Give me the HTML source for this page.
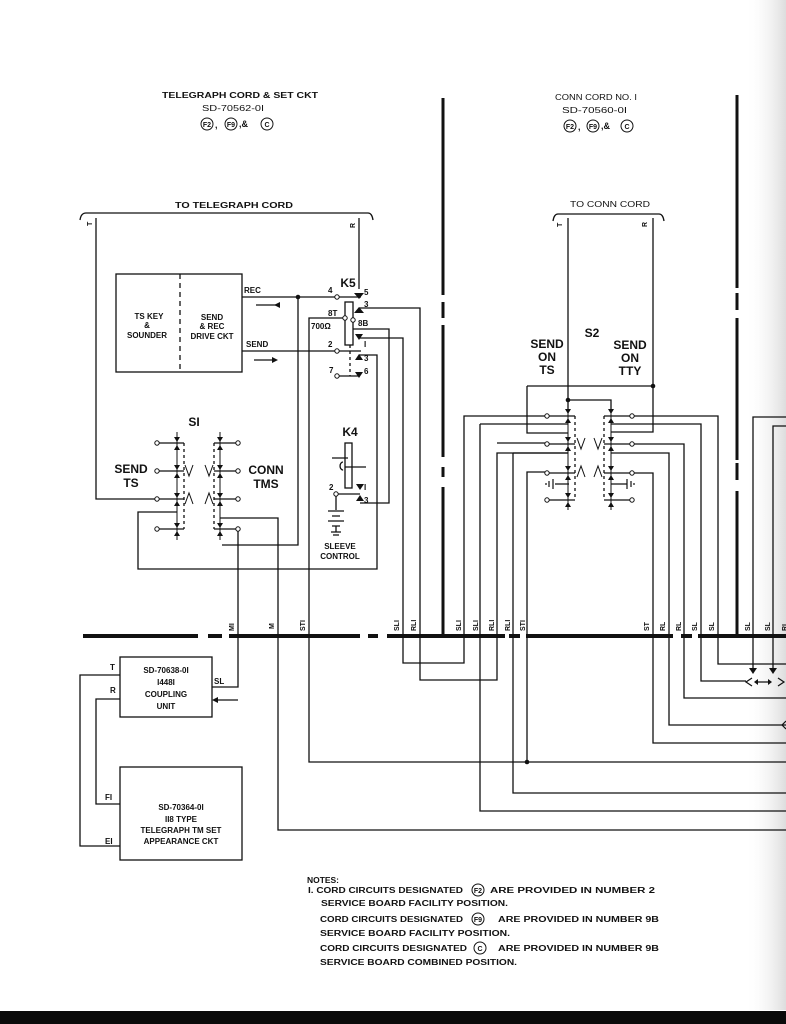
<!DOCTYPE html>
<html><head><meta charset="utf-8"><style>
html,body{margin:0;padding:0;background:#fff}
svg{display:block}
text{font-family:"Liberation Sans",sans-serif;fill:#111}
</style></head><body>
<svg width="786" height="1024" viewBox="0 0 786 1024" xmlns="http://www.w3.org/2000/svg">
<defs>
<linearGradient id="edge" x1="0" x2="1"><stop offset="0" stop-color="#fff" stop-opacity="0"/><stop offset="1" stop-color="#ddd"/></linearGradient>
</defs>
<rect width="786" height="1024" fill="#fff"/>
<rect x="745" y="0" width="41" height="1010" fill="url(#edge)"/>
<rect x="0" y="1011" width="786" height="13" fill="#0a0a0a"/>

<!-- titles -->
<g font-size="8" font-weight="bold">
<text x="162" y="98" textLength="156" lengthAdjust="spacingAndGlyphs">TELEGRAPH CORD &amp; SET CKT</text>
<text x="202" y="111" textLength="62" lengthAdjust="spacingAndGlyphs" font-weight="normal">SD-70562-0I</text>
<text x="175" y="208" textLength="118" lengthAdjust="spacingAndGlyphs">TO TELEGRAPH CORD</text>
<text x="555" y="100" textLength="82" lengthAdjust="spacingAndGlyphs" font-weight="normal">CONN CORD NO. I</text>
<text x="562" y="113" textLength="65" lengthAdjust="spacingAndGlyphs" font-weight="normal">SD-70560-0I</text>
<text x="570" y="207" textLength="80" lengthAdjust="spacingAndGlyphs" font-weight="normal">TO CONN CORD</text>
</g>
<g fill="none" stroke="#111" stroke-width="1">
<circle cx="207" cy="124" r="6"/><circle cx="231" cy="124" r="6"/><circle cx="267" cy="124" r="6"/>
<circle cx="570" cy="126" r="6"/><circle cx="593" cy="126" r="6"/><circle cx="627" cy="126" r="6"/>
</g>
<g font-size="7" text-anchor="middle" font-weight="bold">
<text x="207" y="127">F2</text><text x="231" y="127">F9</text><text x="267" y="127">C</text>
<text x="570" y="129">F2</text><text x="593" y="129">F9</text><text x="627" y="129">C</text>
</g>
<g font-size="9" font-weight="bold"><text x="215" y="128">,</text><text x="239" y="127">,&amp;</text>
<text x="578" y="130">,</text><text x="601" y="129">,&amp;</text></g>

<g fill="none" stroke="#111" stroke-width="1.3">
<!-- brackets -->
<path d="M80 220 Q81 213 86 213 L368 213 Q372 213 373 220"/>
<path d="M553 221 Q554 214 558 214 L659 214 Q663 214 664 221"/>
<!-- dividers -->
<path d="M443 98 V295 M443 302 V318 M443 325 V457 M443 467 V477 M443 487 V636" stroke-width="3"/>
<path d="M737 95 V288 M737 293 V310 M737 318 V460 M737 463 V480 M737 491 V636" stroke-width="3"/>
<!-- bus -->
<path d="M83 636 H198 M208 636 H222 M229 636 H360 M368 636 H378 M387 636 H505 M509 636 H520 M526 636 H673 M681 636 H692 M698 636 H786" stroke-width="4"/>

<!-- TS box -->
<rect x="116" y="274" width="126" height="98"/>
<path d="M180 274 V372" stroke-dasharray="5,4"/>
<path d="M96 218 V499 H155"/>
<path d="M359 218 V289"/>
<path d="M242 297 H335 M339 297 H361"/>
<path d="M298 297 V545 H222"/>
<path d="M242 351 H335 M339 351 H361"/>
<path d="M256 305 H280 M254 360 H276"/>
<!-- K5 -->
<rect x="345" y="302" width="8" height="43"/>
<path d="M359 308 H420 V680 H497 V453 H568"/>
<path d="M353 329 H389 V503 H360"/>
<path d="M359 338 H403 V663 H464 V416 H545"/>
<path d="M359 355 H377 V569 H138 V512 H177"/>
<path d="M309 636 V318 H345"/>
<path d="M309 636 V762 H786"/>
<path d="M339 376 H360"/>
<path d="M350 345 V376" stroke-dasharray="3,3"/>
<!-- K4 -->
<rect x="345" y="443" width="7" height="45"/>
<path d="M332 458 H348 M345 467 H366"/>
<path d="M343 462 a3 4 0 1 0 0.1 8"/>
<path d="M338 494 H360 M336 496 V510 M328 511 H344 M332 516 H340 M328 521 H344 M332 526 H340 M336 526 V532 M331 532 H341 M333 535 H339"/>
<!-- S1 -->
<path d="M159 443 H184 M159 471 H184 M159 499 H184 M159 529 H184"/>
<path d="M184 443 V529 M214 443 V529" stroke-dasharray="3,3"/>
<path d="M177 432 V540" stroke-width="1"/>
<path d="M214 443 H236 M214 471 H236 M214 499 H236 M214 529 H236"/>
<path d="M220 432 V540" stroke-width="1"/>
<path d="M185 465 L189 476 L193 465 M213 465 L209 476 L205 465" stroke-width="1"/>
<path d="M185 504 L189 493 L193 504 M213 504 L209 493 L205 504" stroke-width="1"/>
<path d="M238 531 V687 H212"/>
<path d="M220 518 H278 V830 H786"/>
<!-- coupling unit -->
<rect x="120" y="657" width="92" height="60"/>
<path d="M120 675 H80 V846 H120 M120 699 H96 V804 H120"/>
<path d="M218 700 H238"/>
<rect x="120" y="767" width="122" height="93"/>

<path d="M480 424 H568 M480 424 V811 H786"/>
<path d="M497 443 H545 M513 453 V793 H786 M513 453 H568"/>
<path d="M527 762 V472 H545"/>
<!-- S2 -->
<path d="M568 218 V409 M653 218 V432 H611"/>
<path d="M527 386 H653 M527 386 V433 H568 M568 400 H611 V409"/>
<path d="M549 416 H575 M549 444 H575 M549 473 H575 M549 500 H575"/>
<path d="M575 416 V500 M604 416 V500" stroke-dasharray="3,3"/>
<path d="M568 400 V510 M611 400 V510" stroke-width="1"/>
<path d="M604 416 H630 M604 444 H630 M604 473 H630 M604 500 H630"/>
<path d="M634 416 H718 V664 H786 M611 424 H701 V681 H746 M634 444 H684 V698 H786 M611 453 H669 V725 H786 M634 473 H653 V743 H786"/>
<path d="M555 484 H569 M611 484 H627"/>
<path d="M553 479 V489 M549 481 V487 M546 483 V485 M627 479 V489 M631 481 V487 M634 483 V485" stroke-width="1.2"/>
<path d="M577 438 L581 449 L585 438 M602 438 L598 449 L594 438 M577 477 L581 466 L585 477 M602 477 L598 466 L594 477" stroke-width="1"/>
<!-- right edge lines -->
<path d="M786 417 H753 V668 M786 426 H773 V668"/>
<path d="M752 678 L746 682 L752 686 M778 678 L784 682 L778 686 M758 682 H768" stroke-width="1.2"/>
<path d="M786 721 L782 725 L786 729" stroke-width="1.2"/>
</g>
<g fill="#111">
<circle cx="298" cy="297" r="2.3"/><circle cx="653" cy="386" r="2.3"/><circle cx="568" cy="400" r="2.3"/><circle cx="527" cy="762" r="2.3"/>
</g>
<g fill="#fff" stroke="#111" stroke-width="1">
<circle cx="337" cy="297" r="2.2"/><circle cx="337" cy="351" r="2.2"/><circle cx="337" cy="376" r="2.2"/><circle cx="336" cy="494" r="2.2"/>
<circle cx="157" cy="443" r="2.2"/><circle cx="157" cy="471" r="2.2"/><circle cx="157" cy="499" r="2.2"/><circle cx="157" cy="529" r="2.2"/>
<circle cx="238" cy="443" r="2.2"/><circle cx="238" cy="471" r="2.2"/><circle cx="238" cy="499" r="2.2"/><circle cx="238" cy="529" r="2.2"/>
<circle cx="547" cy="416" r="2.2"/><circle cx="547" cy="444" r="2.2"/><circle cx="547" cy="473" r="2.2"/><circle cx="547" cy="500" r="2.2"/>
<circle cx="632" cy="416" r="2.2"/><circle cx="632" cy="444" r="2.2"/><circle cx="632" cy="473" r="2.2"/><circle cx="632" cy="500" r="2.2"/>
<circle cx="345" cy="318" r="2.2"/><circle cx="353" cy="320" r="2.2"/>
</g>
<g fill="#111">
<polygon points="354,293 364,293 359,299"/>
<polygon points="354,313 364,313 359,307"/>
<polygon points="355,334 363,334 359,340"/>
<polygon points="355,360 363,360 359,354"/>
<polygon points="355,372 363,372 359,378"/>
<polygon points="356,484 364,484 360,490"/>
<polygon points="356,501 364,501 360,495"/>
<polygon points="280,302 280,308 274,305"/>
<polygon points="272,357 272,363 278,360"/>
<polygon points="218,697 218,703 212,700"/>
<polygon points="758,679 758,685 754,682"/>
<polygon points="768,679 768,685 772,682"/>
<polygon points="749,668 757,668 753,674"/>
<polygon points="769,668 777,668 773,674"/>
<polygon points="174,437 180,437 177,442"/><polygon points="174,450 180,450 177,445"/>
<polygon points="174,465 180,465 177,470"/><polygon points="174,478 180,478 177,473"/>
<polygon points="174,493 180,493 177,498"/><polygon points="174,506 180,506 177,501"/>
<polygon points="174,523 180,523 177,528"/><polygon points="174,536 180,536 177,531"/>
<polygon points="217,437 223,437 220,442"/><polygon points="217,450 223,450 220,445"/>
<polygon points="217,465 223,465 220,470"/><polygon points="217,478 223,478 220,473"/>
<polygon points="217,493 223,493 220,498"/><polygon points="217,506 223,506 220,501"/>
<polygon points="217,523 223,523 220,528"/><polygon points="217,536 223,536 220,531"/>
<polygon points="565,409 571,409 568,414"/><polygon points="565,423 571,423 568,418"/>
<polygon points="565,437 571,437 568,442"/><polygon points="565,451 571,451 568,446"/>
<polygon points="565,466 571,466 568,471"/><polygon points="565,480 571,480 568,475"/>
<polygon points="565,493 571,493 568,498"/><polygon points="565,507 571,507 568,502"/>
<polygon points="608,409 614,409 611,414"/><polygon points="608,423 614,423 611,418"/>
<polygon points="608,437 614,437 611,442"/><polygon points="608,451 614,451 611,446"/>
<polygon points="608,466 614,466 611,471"/><polygon points="608,480 614,480 611,475"/>
<polygon points="608,493 614,493 611,498"/><polygon points="608,507 614,507 611,502"/>
</g>

<g font-size="8" font-weight="bold">
<text x="244" y="293">REC</text><text x="246" y="347">SEND</text>
<text x="328" y="293">4</text><text x="364" y="295">5</text><text x="364" y="307">3</text>
<text x="328" y="316">8T</text><text x="311" y="329">700Ω</text><text x="358" y="326">8B</text>
<text x="328" y="347">2</text><text x="364" y="347">I</text><text x="364" y="361">3</text>
<text x="329" y="373">7</text><text x="364" y="374">6</text>
<text x="329" y="490">2</text><text x="364" y="490">I</text><text x="364" y="503">3</text>
<text x="110" y="670">T</text><text x="110" y="693">R</text><text x="214" y="684">SL</text>
<text x="105" y="800">FI</text><text x="105" y="844">EI</text>
</g>
<g font-size="8" font-weight="bold" text-anchor="middle">
<text x="149" y="319">TS KEY</text><text x="147" y="328">&amp;</text><text x="147" y="338">SOUNDER</text>
<text x="212" y="320">SEND</text><text x="212" y="329">&amp; REC</text><text x="212" y="339">DRIVE CKT</text>
<text x="340" y="549">SLEEVE</text><text x="340" y="559">CONTROL</text>
<text x="166" y="673">SD-70638-0I</text><text x="166" y="685">I448I</text><text x="166" y="697">COUPLING</text><text x="166" y="709">UNIT</text>
<text x="181" y="810">SD-70364-0I</text><text x="181" y="822">II8 TYPE</text><text x="181" y="833">TELEGRAPH TM SET</text><text x="181" y="844">APPEARANCE CKT</text>
</g>
<g font-size="12" font-weight="bold" text-anchor="middle">
<text x="348" y="287">K5</text><text x="350" y="436">K4</text><text x="194" y="426">SI</text>
<text x="131" y="473">SEND</text><text x="131" y="487">TS</text>
<text x="266" y="474">CONN</text><text x="266" y="488">TMS</text>
<text x="592" y="337">S2</text>
<text x="547" y="348">SEND</text><text x="547" y="361">ON</text><text x="547" y="374">TS</text>
<text x="630" y="349">SEND</text><text x="630" y="362">ON</text><text x="630" y="375">TTY</text>
</g>
<g font-size="7" font-weight="bold">
<text transform="translate(92,226) rotate(-90)">T</text>
<text transform="translate(355,228) rotate(-90)">R</text>
<text transform="translate(562,227) rotate(-90)">T</text>
<text transform="translate(647,227) rotate(-90)">R</text>
<text transform="translate(234,631) rotate(-90)">MI</text>
<text transform="translate(274,629) rotate(-90)">M</text>
<text transform="translate(305,631) rotate(-90)">STI</text>
<text transform="translate(399,631) rotate(-90)">SLI</text>
<text transform="translate(416,631) rotate(-90)">RLI</text>
<text transform="translate(461,631) rotate(-90)">SLI</text>
<text transform="translate(478,631) rotate(-90)">SLI</text>
<text transform="translate(494,631) rotate(-90)">RLI</text>
<text transform="translate(510,631) rotate(-90)">RLI</text>
<text transform="translate(525,631) rotate(-90)">STI</text>
<text transform="translate(649,631) rotate(-90)">ST</text>
<text transform="translate(665,631) rotate(-90)">RL</text>
<text transform="translate(681,631) rotate(-90)">RL</text>
<text transform="translate(697,631) rotate(-90)">SL</text>
<text transform="translate(714,631) rotate(-90)">SL</text>
<text transform="translate(750,631) rotate(-90)">SL</text>
<text transform="translate(770,631) rotate(-90)">SL</text>
<text transform="translate(787,631) rotate(-90)">RL</text>
</g>
<!-- notes -->
<g font-size="8" font-weight="bold">
<text x="307" y="883" textLength="32" lengthAdjust="spacingAndGlyphs">NOTES:</text>
<text x="308" y="893" textLength="155" lengthAdjust="spacingAndGlyphs">I. CORD CIRCUITS DESIGNATED</text>
<text x="490" y="893" textLength="165" lengthAdjust="spacingAndGlyphs">ARE  PROVIDED  IN  NUMBER  2</text>
<text x="321" y="906" textLength="187" lengthAdjust="spacingAndGlyphs">SERVICE BOARD FACILITY POSITION.</text>
<text x="320" y="922" textLength="143" lengthAdjust="spacingAndGlyphs">CORD CIRCUITS DESIGNATED</text>
<text x="498" y="922" textLength="161" lengthAdjust="spacingAndGlyphs">ARE  PROVIDED  IN  NUMBER 9B</text>
<text x="320" y="936" textLength="190" lengthAdjust="spacingAndGlyphs">SERVICE BOARD FACILITY POSITION.</text>
<text x="320" y="951" textLength="147" lengthAdjust="spacingAndGlyphs">CORD CIRCUITS DESIGNATED</text>
<text x="498" y="951" textLength="161" lengthAdjust="spacingAndGlyphs">ARE  PROVIDED  IN  NUMBER 9B</text>
<text x="320" y="965" textLength="197" lengthAdjust="spacingAndGlyphs">SERVICE BOARD COMBINED POSITION.</text>
</g>
<g fill="none" stroke="#111" stroke-width="1">
<circle cx="478" cy="890" r="6"/><circle cx="478" cy="919" r="6"/><circle cx="480" cy="948" r="6"/>
</g>
<g font-size="7" font-weight="bold" text-anchor="middle">
<text x="478" y="893">F2</text><text x="478" y="922">F9</text><text x="480" y="951">C</text>
</g>
</svg>
</body></html>
